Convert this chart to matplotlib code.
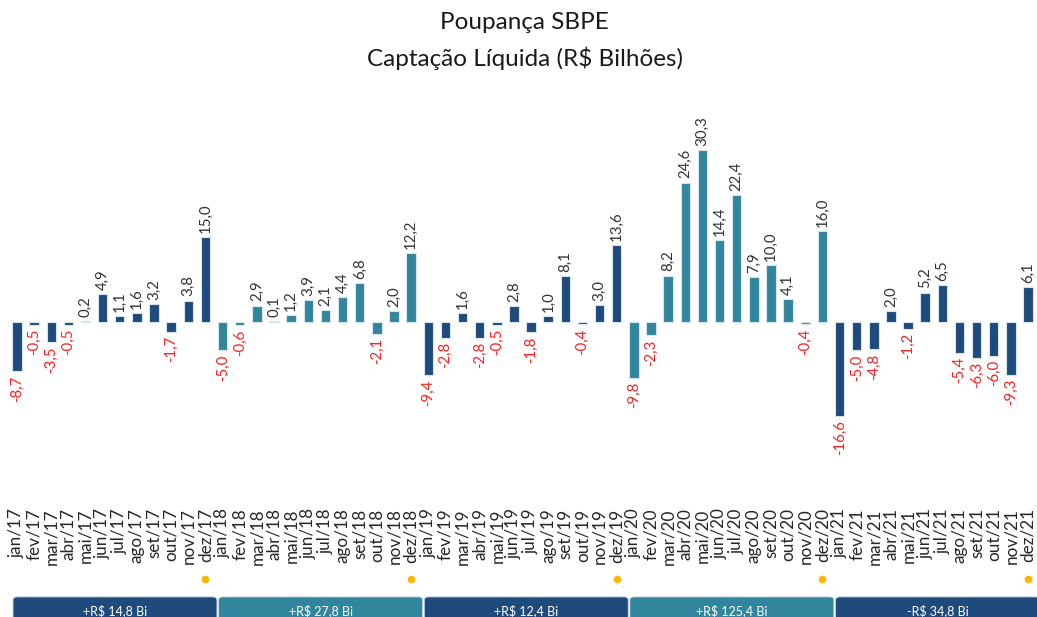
import numpy as np
import matplotlib
matplotlib.use('Agg')
import matplotlib.pyplot as plt
from matplotlib.patches import FancyBboxPatch

plt.rcParams['font.family'] = ['Lato', 'DejaVu Sans']

# monthly net deposits (R$ bi), jan/17 .. dez/21
v2017 = [-8.7, -0.5, -3.5, -0.5, 0.2, 4.9, 1.1, 1.6, 3.2, -1.7, 3.8, 15.0]
v2018 = [-5.0, -0.6, 2.9, 0.1, 1.2, 3.9, 2.1, 4.4, 6.8, -2.1, 2.0, 12.2]
v2019 = [-9.4, -2.8, 1.6, -2.8, -0.5, 2.8, -1.8, 1.0, 8.1, -0.4, 3.0, 13.6]
v2020 = [-9.8, -2.3, 8.2, 24.6, 30.3, 14.4, 22.4, 7.9, 10.0, 4.1, -0.4, 16.0]
v2021 = [-16.6, -5.0, -4.8, 2.0, -1.2, 5.2, 6.5, -5.4, -6.3, -6.0, -9.3, 6.1]
years = ['17', '18', '19', '20', '21']
months = ['jan', 'fev', 'mar', 'abr', 'mai', 'jun', 'jul', 'ago', 'set', 'out', 'nov', 'dez']
totals = ['+R$ 14,8 Bi', '+R$ 27,8 Bi', '+R$ 12,4 Bi', '+R$ 125,4 Bi', '-R$ 34,8 Bi']

NAVY = '#1F4A7C'
TEAL = '#31869E'
year_colors = [NAVY, TEAL, NAVY, TEAL, NAVY]

values = v2017 + v2018 + v2019 + v2020 + v2021
labels = [f'{m}/{y}' for y in years for m in months]
colors = [c for c in year_colors for _ in range(12)]
x = np.arange(len(values))

fig = plt.figure(figsize=(10.37, 6.17), dpi=100)
ax = fig.add_axes([0.0081, 0.2943, 0.9915, 0.5053])
ax.bar(x, values, width=0.55, color=colors, edgecolor='#d6e4ee', linewidth=0.8)
ax.set_xlim(-0.5, len(values) - 0.5)
ax.set_ylim(-20, 35)
ax.axis('off')

for xi, v in zip(x, values):
    txt = f'{v:.1f}'.replace('.', ',')
    if v >= 0:
        ax.annotate(txt, (xi, v), xytext=(0, 3), textcoords='offset points',
                    rotation=90, ha='center', va='bottom', fontsize=10.8, color='#333333')
    else:
        ax.annotate(txt, (xi, v), xytext=(0, -3), textcoords='offset points',
                    rotation=90, ha='center', va='top', fontsize=10.8, color='#FF2020')

tr = ax.get_xaxis_transform()
for xi, lab in zip(x, labels):
    ax.text(xi, -0.234, lab, transform=tr, rotation=90, ha='center', va='top',
            fontsize=12.3, color='#262626')

# year-end markers
for k in range(5):
    ax.plot(12 * k + 11, -0.459, 'o', transform=tr, color='#FFB400',
            markersize=4.5, clip_on=False)

# yearly total boxes
for k, (tot, c) in enumerate(zip(totals, year_colors)):
    x0 = 12 * k - 0.23
    box = FancyBboxPatch((x0, -0.60), 11.9, 0.082, transform=tr,
                         boxstyle='round,pad=0,rounding_size=0.25',
                         facecolor=c, edgecolor='#c8d8e4', linewidth=0.6,
                         clip_on=False, mutation_aspect=0.04)
    ax.add_patch(box)
    ax.text(x0 + 5.95, -0.563, tot, transform=tr, ha='center', va='center',
            fontsize=9, color='white')

fig.text(0.506, 0.963, 'Poupança SBPE', ha='center', va='center', fontsize=17.5, color='#1a1a1a')
fig.text(0.506, 0.906, 'Captação Líquida (R$ Bilhões)', ha='center', va='center',
         fontsize=17.5, color='#1a1a1a')

fig.savefig('out.png', dpi=100)
